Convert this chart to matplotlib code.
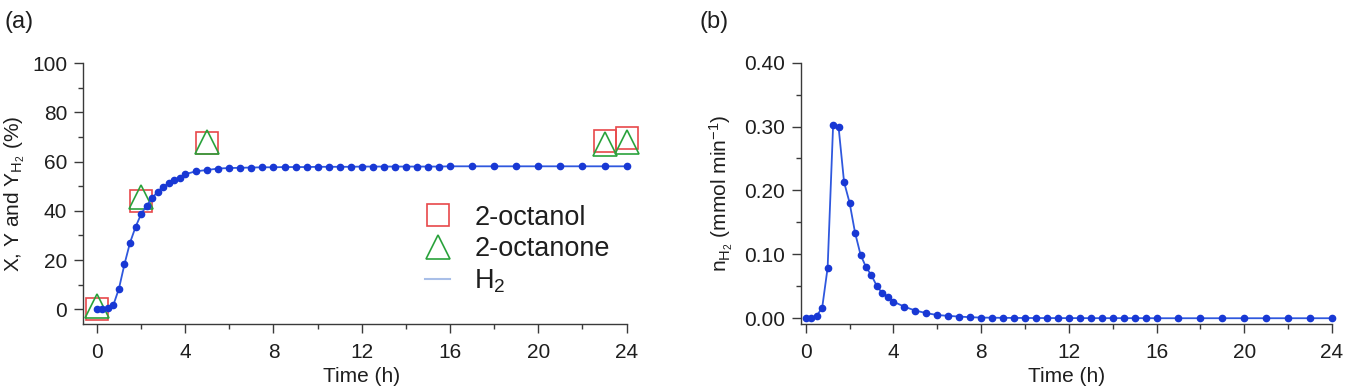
import matplotlib
matplotlib.use("Agg")
import matplotlib.pyplot as plt
from matplotlib.ticker import MultipleLocator, FormatStrFormatter
from matplotlib.lines import Line2D

plt.rcParams['font.family'] = ['Liberation Sans', 'DejaVu Sans']
plt.rcParams['mathtext.default'] = 'regular'

# time grid shared by both H2 traces (h)
time_h = [0, 0.25, 0.5, 0.75, 1, 1.25, 1.5, 1.75, 2, 2.25, 2.5, 2.75, 3, 3.25, 3.5, 3.75, 4,
          4.5, 5, 5.5, 6, 6.5, 7, 7.5, 8, 8.5, 9, 9.5, 10, 10.5, 11, 11.5, 12, 12.5,
          13, 13.5, 14, 14.5, 15, 15.5, 16,
          17, 18, 19, 20, 21, 22, 23, 24]

# (a) H2 yield (%)
y_h2 = [0, 0, 0.3, 1.8, 8.4, 18.3, 27.0, 33.4, 38.6, 42.1, 45.1, 47.8, 49.8, 51.2, 52.6, 53.5, 54.9,
        56.1, 56.6, 57.2, 57.4, 57.5, 57.6, 57.7, 57.7, 57.8, 57.8, 57.8, 57.9, 57.9, 57.9, 57.9,
        58.0, 58.0, 58.0, 58.0, 58.0, 58.0, 58.0, 58.0, 58.1,
        58.1, 58.1, 58.1, 58.1, 58.1, 58.1, 58.1, 58.1]

# (a) sampled points
t_sample = [0, 2, 5, 23, 24]
x_octanol = [0, 44.1, 67.7, 68.5, 69.6]
y_octanone = [1.2, 45.6, 68.1, 67.3, 68.1]

# (b) H2 flow (mmol/min)
n_h2 = [0, 0, 0.004, 0.016, 0.079, 0.302, 0.299, 0.213, 0.181, 0.134, 0.0996, 0.080, 0.067,
        0.050, 0.039, 0.034, 0.026,
        0.018, 0.012, 0.008, 0.005, 0.0037, 0.0026, 0.0016, 0.001, 0.0008, 0.0006, 0.0005,
        0.0004, 0.0003, 0.0003, 0.0002, 0.0002, 0.0002, 0.0001, 0.0001, 0.0001, 0.0001,
        0.0001, 0.0001, 0,
        0, 0, 0, 0, 0, 0, 0, 0]

blue = '#1838d4'
line_blue = '#2f58de'
red = '#e8484a'
green = '#2aa23c'
spine_c = '#3a3a3a'
txt_c = '#1e1e1e'
fs = 15

fig = plt.figure(figsize=(13.67, 3.88), dpi=100)
ax1 = fig.add_axes([0.0607, 0.165, 0.3977, 0.672])
ax2 = fig.add_axes([0.5857, 0.165, 0.3887, 0.6735])


def style(ax):
    for s in ['top', 'right']:
        ax.spines[s].set_visible(False)
    for s in ['left', 'bottom']:
        ax.spines[s].set_color(spine_c)
        ax.spines[s].set_linewidth(1.0)
    ax.tick_params(which='major', length=6.5, width=1.0, color=spine_c,
                   labelsize=fs, labelcolor=txt_c, pad=5)
    ax.tick_params(axis='x', which='major', pad=7)
    ax.tick_params(which='minor', length=3.5, width=1.0, color=spine_c)
    ax.xaxis.set_major_locator(MultipleLocator(4))
    ax.xaxis.set_minor_locator(MultipleLocator(2))


# panel (a)
ax1.plot(t_sample, x_octanol, linestyle='none', marker='s', markersize=16,
         markerfacecolor='none', markeredgecolor=red, markeredgewidth=1.2,
         zorder=3, clip_on=False)
ax1.plot(t_sample, y_octanone, linestyle='none', marker='^', markersize=17,
         markerfacecolor='none', markeredgecolor=green, markeredgewidth=1.2,
         zorder=4, clip_on=False)
ax1.plot(time_h, y_h2, color=line_blue, linewidth=1.3, marker='o', markersize=4.5,
         markerfacecolor=blue, markeredgecolor=blue, zorder=5, clip_on=False)
style(ax1)
ax1.set_xlim(-0.63, 24)
ax1.set_ylim(-6, 100)
ax1.yaxis.set_major_locator(MultipleLocator(20))
ax1.yaxis.set_minor_locator(MultipleLocator(10))
ax1.set_xlabel('Time (h)', fontsize=fs, color=txt_c)
ax1.xaxis.set_label_coords(0.513, -0.165)
ax1.set_ylabel('X, Y and Y$_{H_2}$ (%)', fontsize=fs, color=txt_c)
ax1.yaxis.set_label_coords(-0.103, 0.5)

handles = [
    Line2D([], [], linestyle='none', marker='s', markersize=16, markerfacecolor='none',
           markeredgecolor=red, markeredgewidth=1.2),
    Line2D([], [], linestyle='none', marker='^', markersize=17, markerfacecolor='none',
           markeredgecolor=green, markeredgewidth=1.2),
    Line2D([], [], color='#a9bfe8', linewidth=1.5),
]
ax1.legend(handles, ['2-octanol', '2-octanone', 'H$_2$'], loc='upper left',
           bbox_to_anchor=(0.63, 0.458), frameon=False, fontsize=19.5,
           borderpad=0, borderaxespad=0, handlelength=0.9, handletextpad=0.9,
           labelspacing=0.2, labelcolor=txt_c)

# panel (b)
ax2.plot(time_h, n_h2, color=line_blue, linewidth=1.3, marker='o', markersize=4.5,
         markerfacecolor=blue, markeredgecolor=blue, zorder=5, clip_on=False)
style(ax2)
ax2.set_xlim(-0.23, 24)
ax2.set_ylim(-0.009, 0.40)
ax2.yaxis.set_major_locator(MultipleLocator(0.1))
ax2.yaxis.set_minor_locator(MultipleLocator(0.05))
ax2.yaxis.set_major_formatter(FormatStrFormatter('%.2f'))
ax2.set_xlabel('Time (h)', fontsize=fs, color=txt_c)
ax2.xaxis.set_label_coords(0.5, -0.165)
ax2.set_ylabel('n$_{H_2}$ (mmol min$^{-1}$)', fontsize=fs, color=txt_c)
ax2.yaxis.set_label_coords(-0.124, 0.5)

fig.text(0.003, 0.943, '(a)', fontsize=17, va='center', ha='left', color=txt_c)
fig.text(0.512, 0.943, '(b)', fontsize=17, va='center', ha='left', color=txt_c)

fig.savefig('out.png', dpi=100, facecolor='white')
